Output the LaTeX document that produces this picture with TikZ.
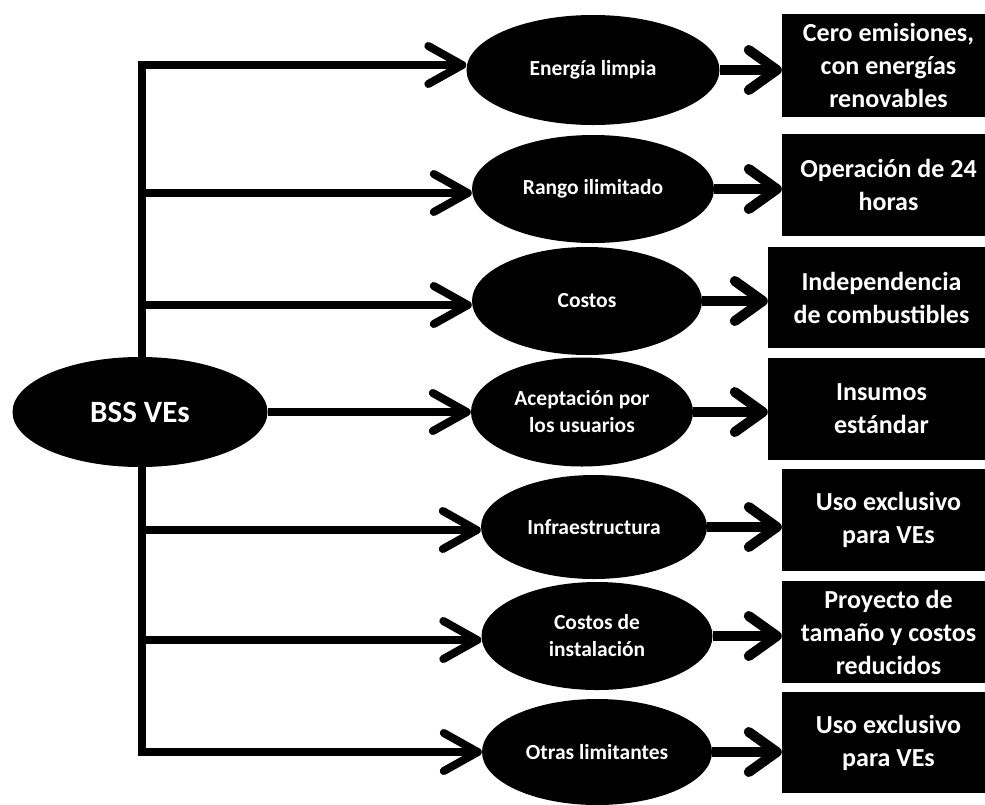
\documentclass[tikz,border=0pt]{standalone}
\usepackage{fontspec}
\setmainfont{Carlito}
\usetikzlibrary{shapes.geometric,arrows.meta}

% a connector: the chevron tip, plus the full shaft running into it
\newcommand\linkto[3]{%
  \draw[#1] #2 -- #3;
  \draw[#1, -, shorten >=5pt] #2 -- #3;}

\begin{document}
\begin{tikzpicture}[x=1pt,y=-1pt,
  bubble/.style={ellipse, fill=black, text=white, inner sep=0pt, align=center,
    font=\bfseries\fontsize{21.5}{27}\selectfont},
  hub/.style={ellipse, fill=black, text=white, inner sep=0pt, align=center,
    minimum width=255pt, minimum height=110pt,
    font=\bfseries\fontsize{31}{36}\selectfont},
  card/.style={rectangle, fill=black, text=white, inner sep=0pt, align=center,
    font=\bfseries\fontsize{26}{33}\selectfont},
  branch/.style={line width=8pt,
    -{Straight Barb[length=34pt,width=38pt,round]}},
  result/.style={line width=10pt,
    -{Straight Barb[length=28pt,width=40pt,round]}}
]
\useasboundingbox (0,0) rectangle (985,804);

% branch points on the vertical trunk
\coordinate (top) at (142,65);
\coordinate (r2) at (142,193);
\coordinate (r3) at (142,305);
\coordinate (r5) at (142,530);
\coordinate (r6) at (142,640);
\coordinate (bot) at (142,752);

% middle column
\node[bubble, minimum width=253pt, minimum height=110pt] (e1) at (593,70) {Energía limpia};
\node[bubble, minimum width=242pt, minimum height=108pt] (e2) at (593,189) {Rango ilimitado};
\node[bubble, minimum width=230pt, minimum height=108pt] (e3) at (587,301) {Costos};
\node[bubble, minimum width=222pt, minimum height=109pt] (e4) at (582,412) {Aceptación por\\los usuarios};
\node[bubble, minimum width=226pt, minimum height=104pt] (e5) at (594,527) {Infraestructura};
\node[bubble, minimum width=231pt, minimum height=108pt] (e6) at (597,636) {Costos de\\instalación};
\node[bubble, minimum width=230pt, minimum height=106pt] (e7) at (597,752) {Otras limitantes};

% right column
\node[card, minimum width=213pt, minimum height=103pt] (b1) at (888.5,65.5) {Cero emisiones,\\con energías\\renovables};
\node[card, minimum width=213pt, minimum height=102pt] (b2) at (888.5,185) {Operación de 24\\horas};
\node[card, minimum width=227pt, minimum height=101pt] (b3) at (881.5,297.5) {Independencia\\de combustibles};
\node[card, minimum width=227pt, minimum height=102pt] (b4) at (881.5,409) {Insumos\\estándar};
\node[card, minimum width=213pt, minimum height=102pt] (b5) at (888.5,520) {Uso exclusivo\\para VEs};
\node[card, minimum width=213pt, minimum height=102pt] (b6) at (888.5,632) {Proyecto de\\tamaño y costos\\reducidos};
\node[card, minimum width=213pt, minimum height=101pt] (b7) at (888.5,742.5) {Uso exclusivo\\para VEs};

% trunk with its branches
\draw[line width=8pt] (bot) -- (top);
\linkto{branch}{([xshift=-4pt]top)}{(top -| e1.west)}
\linkto{branch}{(r2)}{(r2 -| e2.west)}
\linkto{branch}{(r3)}{(r3 -| e3.west)}
\linkto{branch}{(r5)}{(r5 -| e5.west)}
\linkto{branch}{(r6)}{(r6 -| e6.west)}
\linkto{branch}{([xshift=-4pt]bot)}{(bot -| e7.west)}

% root node sits on top of the trunk
\node[hub] (bss) at (140,412) {BSS VEs};
\linkto{branch}{(bss.east)}{(e4.west)}

% middle to right
\foreach \i in {1,...,7}{
  \linkto{result}{(e\i.east)}{(b\i.west |- e\i.east)}
}
\end{tikzpicture}
\end{document}
